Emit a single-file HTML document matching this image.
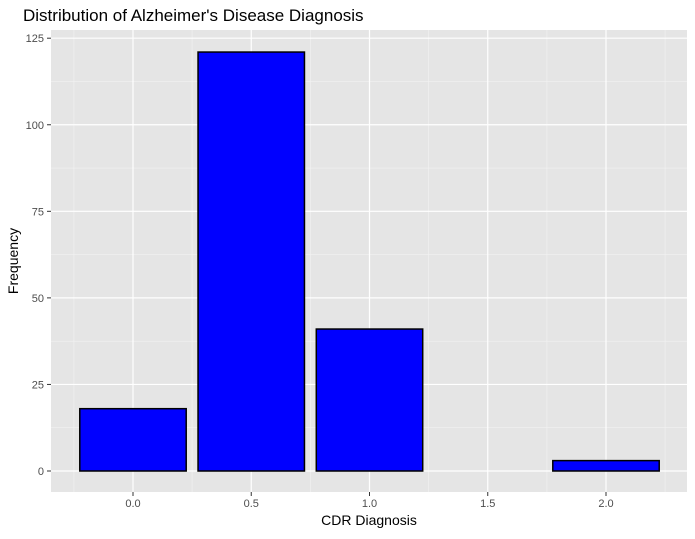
<!DOCTYPE html>
<html><head><style>
body{margin:0;background:#fff;font-family:"Liberation Sans",sans-serif}
</style></head><body>
<svg id="c" width="695" height="534" xmlns="http://www.w3.org/2000/svg">
<text x="23" y="21" font-size="17" fill="#000">Distribution of Alzheimer's Disease Diagnosis</text>
<rect x="51" y="30" width="636" height="462" fill="#e5e5e5"/>
<g id="grid"></g><g id="bars"></g><g id="axes"></g>
<text x="369" y="525" font-size="14" text-anchor="middle">CDR Diagnosis</text>
<text transform="translate(18,261) rotate(-90)" font-size="14" text-anchor="middle">Frequency</text>
</svg>
<script>
const categories=[0,0.5,1,1.5,2];
const counts=[18,121,41,0,3];
const xTicks=[0,0.5,1,1.5,2];
const xTickLabels=["0.0","0.5","1.0","1.5","2.0"];
const yTicks=[0,25,50,75,100,125];
const NS="http://www.w3.org/2000/svg";
const xs=v=>133+v*236.5, ys=v=>471-v*3.4624;
function mk(t,a,p){const e=document.createElementNS(NS,t);for(const k in a)e.setAttribute(k,a[k]);p.appendChild(e);return e;}
const g=document.getElementById('grid'),b=document.getElementById('bars'),ax=document.getElementById('axes');
for(let i=0;i<yTicks.length-1;i++){const m=(yTicks[i]+yTicks[i+1])/2;
 const l=mk('line',{x1:51,x2:687,y1:ys(m),y2:ys(m),stroke:'#f2f2f2','stroke-width':0.6},g);
 }
for(let v=-0.25;v<=2.3;v+=0.5){const l=mk('line',{x1:xs(v),x2:xs(v),y1:30,y2:492,stroke:'#f2f2f2','stroke-width':0.6},g);
 }
yTicks.forEach(v=>{const l=mk('line',{x1:51,x2:687,y1:ys(v),y2:ys(v),stroke:'#fff','stroke-width':1.2},g);
 
 const t=mk('line',{x1:47,x2:51,y1:ys(v),y2:ys(v),stroke:'#333'},ax);
 
 const tx=mk('text',{x:44,y:ys(v)+4,'font-size':11,fill:'#4d4d4d','text-anchor':'end'},ax);tx.textContent=v;
 });
xTicks.forEach((v,i)=>{const l=mk('line',{x1:xs(v),x2:xs(v),y1:30,y2:492,stroke:'#fff','stroke-width':1.2},g);
 
 const t=mk('line',{x1:xs(v),x2:xs(v),y1:492,y2:496,stroke:'#333'},ax);
 
 const tx=mk('text',{x:xs(v),y:507,'font-size':11,fill:'#4d4d4d','text-anchor':'middle'},ax);tx.textContent=xTickLabels[i];
 });
categories.forEach((c,i)=>{if(!counts[i])return;const x0=xs(c-0.225),x1=xs(c+0.225);
 const r=mk('rect',{x:x0,y:ys(counts[i]),width:x1-x0,height:ys(0)-ys(counts[i]),fill:'#0000ff',stroke:'#000','stroke-width':1.5},b);
 });
</script>
</body></html>
